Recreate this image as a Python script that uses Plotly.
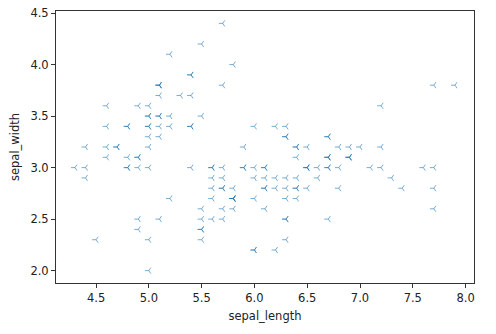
import plotly.graph_objects as go

sepal_length = [
    5.1, 4.9, 4.7, 4.6, 5.0, 5.4, 4.6, 5.0, 4.4, 4.9, 5.4, 4.8, 4.8, 4.3, 5.8, 5.7, 5.4, 5.1, 5.7, 5.1,
    5.4, 5.1, 4.6, 5.1, 4.8, 5.0, 5.0, 5.2, 5.2, 4.7, 4.8, 5.4, 5.2, 5.5, 4.9, 5.0, 5.5, 4.9, 4.4, 5.1,
    5.0, 4.5, 4.4, 5.0, 5.1, 4.8, 5.1, 4.6, 5.3, 5.0,
    7.0, 6.4, 6.9, 5.5, 6.5, 5.7, 6.3, 4.9, 6.6, 5.2, 5.0, 5.9, 6.0, 6.1, 5.6, 6.7, 5.6, 5.8, 6.2, 5.6,
    5.9, 6.1, 6.3, 6.1, 6.4, 6.6, 6.8, 6.7, 6.0, 5.7, 5.5, 5.5, 5.8, 6.0, 5.4, 6.0, 6.7, 6.3, 5.6, 5.5,
    5.5, 6.1, 5.8, 5.0, 5.6, 5.7, 5.7, 6.2, 5.1, 5.7,
    6.3, 5.8, 7.1, 6.3, 6.5, 7.6, 4.9, 7.3, 6.7, 7.2, 6.5, 6.4, 6.8, 5.7, 5.8, 6.4, 6.5, 7.7, 7.7, 6.0,
    6.9, 5.6, 7.7, 6.3, 6.7, 7.2, 6.2, 6.1, 6.4, 7.2, 7.4, 7.9, 6.4, 6.3, 6.1, 7.7, 6.3, 6.4, 6.0, 6.9,
    6.7, 6.9, 5.8, 6.8, 6.7, 6.7, 6.3, 6.5, 6.2, 5.9,
]
sepal_width = [
    3.5, 3.0, 3.2, 3.1, 3.6, 3.9, 3.4, 3.4, 2.9, 3.1, 3.7, 3.4, 3.0, 3.0, 4.0, 4.4, 3.9, 3.5, 3.8, 3.8,
    3.4, 3.7, 3.6, 3.3, 3.4, 3.0, 3.4, 3.5, 3.4, 3.2, 3.1, 3.4, 4.1, 4.2, 3.1, 3.2, 3.5, 3.6, 3.0, 3.4,
    3.5, 2.3, 3.2, 3.5, 3.8, 3.0, 3.8, 3.2, 3.7, 3.3,
    3.2, 3.2, 3.1, 2.3, 2.8, 2.8, 3.3, 2.4, 2.9, 2.7, 2.0, 3.0, 2.2, 2.9, 2.9, 3.1, 3.0, 2.7, 2.2, 2.5,
    3.2, 2.8, 2.5, 2.8, 2.9, 3.0, 2.8, 3.0, 2.9, 2.6, 2.4, 2.4, 2.7, 2.7, 3.0, 3.4, 3.1, 2.3, 3.0, 2.5,
    2.6, 3.0, 2.6, 2.3, 2.7, 3.0, 2.9, 2.9, 2.5, 2.8,
    3.3, 2.7, 3.0, 2.9, 3.0, 3.0, 2.5, 2.9, 2.5, 3.6, 3.2, 2.7, 3.0, 2.5, 2.8, 3.2, 3.0, 3.8, 2.6, 2.2,
    3.2, 2.8, 2.8, 2.7, 3.3, 3.2, 2.8, 3.0, 2.8, 3.0, 2.8, 3.8, 2.8, 2.8, 2.6, 3.0, 3.4, 3.1, 3.0, 3.1,
    3.1, 3.1, 2.7, 3.2, 3.3, 3.0, 2.5, 3.0, 3.4, 3.0,
]
x_ticks = [4.5, 5.0, 5.5, 6.0, 6.5, 7.0, 7.5, 8.0]
y_ticks = [2.0, 2.5, 3.0, 3.5, 4.0, 4.5]

fig = go.Figure(go.Scatter(
    x=sepal_length, y=sepal_width, mode="markers",
    marker=dict(symbol="y-left", size=5, color="rgba(0,0,0,0)",
                line=dict(color="rgba(31,119,180,0.6)", width=1)),
))

font = dict(family="DejaVu Sans", size=11.5, color="#222")
axis_common = dict(
    showgrid=False, zeroline=False, showline=True, linecolor="#333", linewidth=1,
    mirror=True, ticks="outside", ticklen=4, tickwidth=1, tickcolor="#333",
    tickfont=font, automargin=False, ticklabeloverflow="allow",
)
fig.update_xaxes(range=[4.12, 8.08], tickvals=x_ticks, ticktext=[f"{v:.1f}" for v in x_ticks],
                 title=dict(text="sepal_length", font=font, standoff=8), **axis_common)
fig.update_yaxes(range=[1.88, 4.52], tickvals=y_ticks, ticktext=[f"{v:.1f}" for v in y_ticks],
                 title=dict(text="sepal_width", font=font, standoff=8), **axis_common)
fig.update_layout(
    width=496, height=334, showlegend=False,
    margin=dict(l=56, r=22, t=11, b=51, autoexpand=False),
    plot_bgcolor="white", paper_bgcolor="white",
)
fig.write_html("out.html", config={"displayModeBar": False},
               post_script="document.body.style.margin='0';")
